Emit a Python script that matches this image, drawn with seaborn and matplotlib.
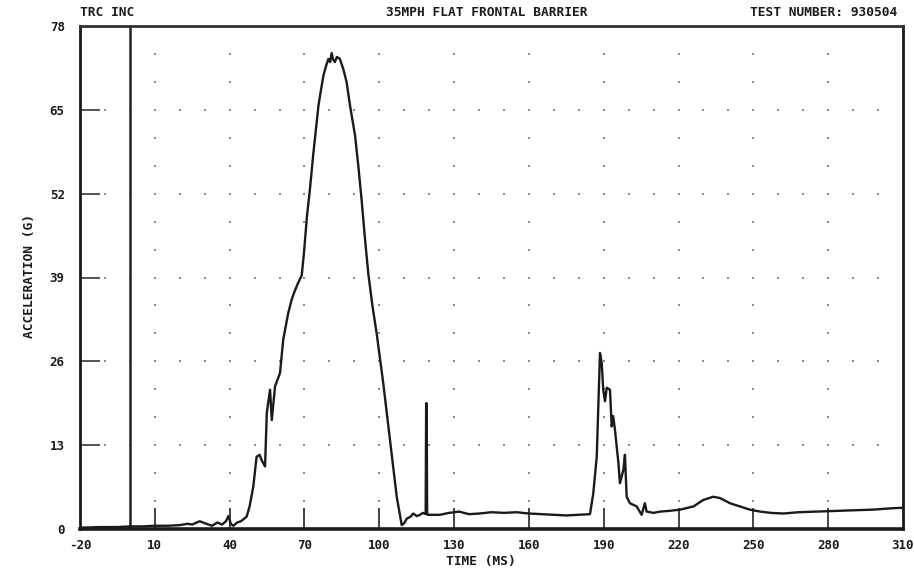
import numpy as np
import pandas as pd
import matplotlib
matplotlib.use("Agg")
import matplotlib.pyplot as plt
import seaborn as sns

# ---- data ----
x_ticks = [-20, 10, 40, 70, 100, 130, 160, 190, 220, 250, 280, 310]
y_ticks = [0, 13, 26, 39, 52, 65, 78]
x_tick_labels = ["-20", "10", "40", "70", "100", "130", "160", "190", "220", "250", "280", "310"]
y_tick_labels = ["0", "13", "26", "39", "52", "65", "78"]

time_ms = [-20, -12, -5, 0, 5, 10, 15, 20, 23, 25, 28, 30, 33, 35, 37, 38.5, 39.5, 40.5,
           41.5, 43, 44.5, 45.5, 46.8, 48, 49.5, 50.8, 52, 52.8, 54.2, 54.9, 56.2, 56.9,
           58.2, 60.2, 61.5, 63.5, 64.9, 66, 67.5, 68.9, 69.8, 71, 72.2, 73.5, 74.9, 75.6,
           76.5, 77.6, 78.5, 79.6, 80.3, 80.9, 81.5, 82.2, 83, 84.2, 85.6, 86.9, 88.3,
           90.3, 91.6, 92.9, 94.3, 95.6, 97.3, 99, 101.6, 104.3, 107, 109, 110, 111,
           112.5, 113.6, 115, 116.3, 117.5, 118.6, 118.8, 119.0, 119.2, 119.4, 121.7,
           124.3, 128, 132, 136, 140, 145, 150, 155, 160, 165, 170, 175, 180, 184.5,
           185.8, 187.2, 188.5, 189.2, 189.8, 190.5, 191.2, 192.5, 193.2, 193.8, 194.5,
           195.9, 196.5, 197.9, 198.5, 199.2, 200.5, 203.2, 205.2, 206.5, 207.2, 210,
           212.6, 216, 220.6, 226, 229.9, 233.9, 236.6, 240.6, 244.6, 248.6, 252.7, 257,
           262, 268, 275, 282, 290, 298, 305, 310]
accel_g = [0.2, 0.3, 0.3, 0.4, 0.4, 0.5, 0.5, 0.6, 0.8, 0.7, 1.2, 0.9, 0.5, 1.0, 0.7,
           1.2, 2.0, 0.8, 0.5, 1.0, 1.2, 1.5, 1.9, 3.5, 6.6, 11.2, 11.5, 10.7, 9.7, 18.0,
           21.6, 16.9, 22.1, 24.2, 29.4, 33.5, 35.6, 36.8, 38.2, 39.3, 42.8, 48.5, 52.7,
           58.0, 63.0, 65.6, 67.8, 70.3, 71.6, 72.9, 72.4, 73.8, 72.8, 72.4, 73.2, 72.9,
           71.3, 69.3, 65.6, 61.0, 56.3, 51.1, 44.9, 39.6, 34.5, 30.2, 22.6, 13.8, 5.0,
           0.6, 0.9, 1.6, 1.9, 2.4, 2.0, 2.2, 2.5, 2.3, 19.5, 19.5, 2.3, 2.2, 2.2, 2.2,
           2.5, 2.7, 2.3, 2.4, 2.6, 2.5, 2.6, 2.4, 2.3, 2.2, 2.1, 2.2, 2.3, 5.5, 11.2,
           27.3, 25.7, 21.6, 19.8, 21.9, 21.6, 15.9, 17.5, 15.4, 10.2, 7.1, 9.2, 11.5,
           5.0, 4.0, 3.5, 2.2, 4.0, 2.7, 2.5, 2.7, 2.8, 3.0, 3.5, 4.5, 5.0, 4.8, 4.0, 3.5,
           3.0, 2.7, 2.5, 2.4, 2.6, 2.7, 2.8, 2.9, 3.0, 3.2, 3.3]

time_zero_ms = 0

title_left = "TRC INC"
title_center = "35MPH FLAT FRONTAL BARRIER"
title_right = "TEST NUMBER: 930504"
x_label = "TIME (MS)"
y_label = "ACCELERATION (G)"

df = pd.DataFrame({"time": time_ms, "accel": accel_g})

# ---- figure ----
sns.set_style("white")
plt.rcParams["font.family"] = ["DejaVu Sans Mono", "DejaVu Sans"]

fig = plt.figure(figsize=(9.14, 5.71), dpi=100)
ax = fig.add_axes([80 / 914, 42 / 571, 823 / 914, 503 / 571])

x_min, x_max = x_ticks[0], x_ticks[-1]
y_min, y_max = y_ticks[0], y_ticks[-1]

# dotted grid
minor_x = np.arange(-10, 301, 10)
gx, gy = np.meshgrid(minor_x, y_ticks[1:-1])
grid_y_fine = np.arange(1, 18) * 13 / 3
gx2, gy2 = np.meshgrid(x_ticks[1:-1], grid_y_fine)
ax.scatter(np.concatenate([gx.ravel(), gx2.ravel()]),
           np.concatenate([gy.ravel(), gy2.ravel()]),
           s=4, color="#8a8a8a", marker="s", linewidths=0, zorder=1)

# axis tick marks drawn inside the frame
ax.hlines(y_ticks[1:-1], x_min, x_min + 8, color="#555555", lw=1.4, zorder=2)
ax.vlines(x_ticks[1:-1], y_min, y_min + 3.3, color="#444444", lw=1.4, zorder=2)

# time-zero marker line
ax.axvline(time_zero_ms, color="#222222", lw=1.8, zorder=2)

sns.lineplot(data=df, x="time", y="accel", ax=ax, color="#1a1a1a",
             linewidth=1.7, estimator=None, sort=False, zorder=3)

ax.set_xlim(x_min, x_max)
ax.set_ylim(y_min, y_max)
ax.set_xticks(x_ticks)
ax.set_xticklabels(x_tick_labels)
ax.set_yticks(y_ticks)
ax.set_yticklabels(y_tick_labels)
ax.tick_params(axis="both", length=0, labelsize=9, colors="#1a1a1a")
ax.tick_params(axis="x", pad=7)
ax.tick_params(axis="y", pad=11)
for lab in ax.get_xticklabels() + ax.get_yticklabels():
    lab.set_fontweight("bold")
ax.set_xlabel("")
ax.set_ylabel("")

for side, sp in ax.spines.items():
    sp.set_visible(True)
    sp.set_color("#1a1a1a")
    sp.set_linewidth(2.0)
ax.spines["bottom"].set_linewidth(2.6)
ax.spines["top"].set_color("#333333")

txt = dict(fontsize=9.3, fontweight="bold", color="#1a1a1a")
fig.text(80 / 914, 1 - 13 / 571, title_left, ha="left", va="center", **txt)
fig.text(487 / 914, 1 - 13 / 571, title_center, ha="center", va="center", **txt)
fig.text(897 / 914, 1 - 13 / 571, title_right, ha="right", va="center", **txt)
fig.text(481 / 914, 1 - 561 / 571, x_label, ha="center", va="center", **txt)
fig.text(30 / 914, 1 - 276 / 571, y_label, ha="center", va="center",
         rotation=90, **txt)

fig.savefig("out.png", dpi=100)
